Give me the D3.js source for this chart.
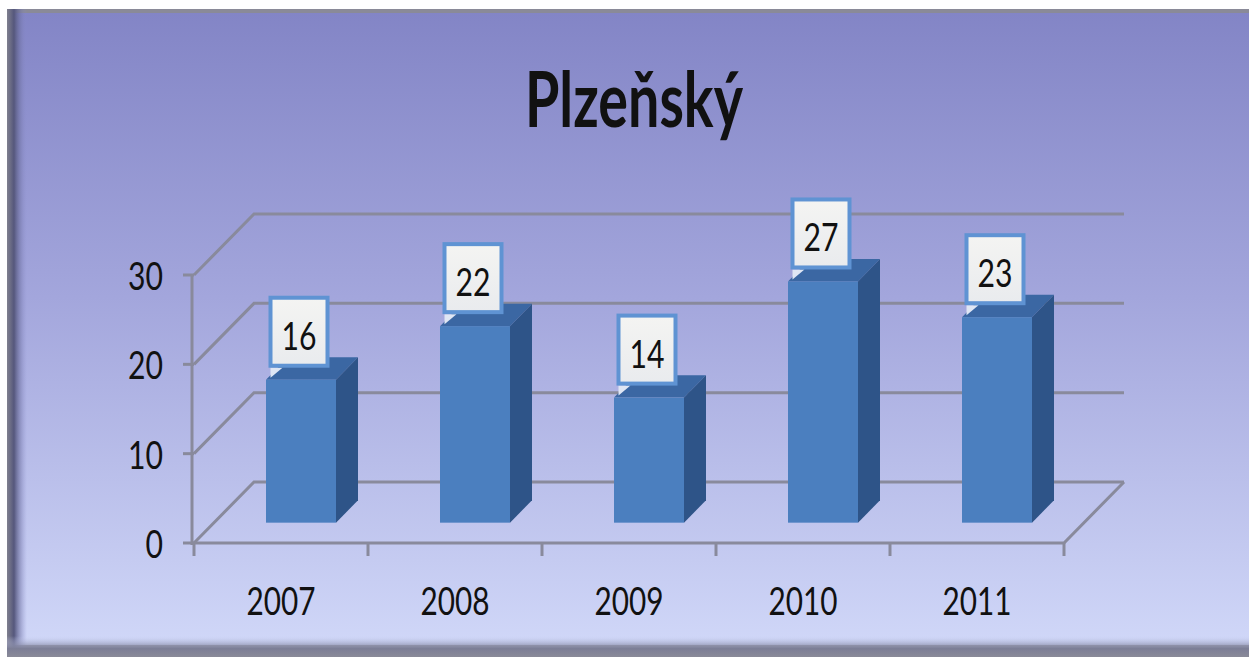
<!DOCTYPE html>
<html lang="cs">
  <head>
    <meta charset="utf-8">
    <script src="https://d3js.org/d3.v7.min.js"></script>
    <style>
      body { margin: 0; background: #fff; }
      svg { display: block; }
      text { font-family: Lato, "Open Sans", sans-serif; fill: #111; }
    </style>
  </head>
  <body>
    <svg width="1249" height="657"></svg>
    <script>
      // chart data
      var years = ["2007", "2008", "2009", "2010", "2011"];
      var values = [16, 22, 14, 27, 23];
      var yTicks = [0, 10, 20, 30];
      var title = "Plzeňský";

      var svg = d3.select("svg");
      var defs = svg.append("defs");

      //background gradient of the chart area
      var bg = defs.append("linearGradient").attr("id", "bg")
        .attr("x1", 0).attr("y1", 0).attr("x2", 0).attr("y2", 1);
      bg.append("stop").attr("offset", "0%").attr("stop-color", "#8385c6");
      bg.append("stop").attr("offset", "45%").attr("stop-color", "#a3a6dc");
      bg.append("stop").attr("offset", "100%").attr("stop-color", "#d0d7f8");

      var leftEdge = defs.append("linearGradient").attr("id", "leftEdge");
      leftEdge.append("stop").attr("offset", "0%").attr("stop-color", "#80808e");
      leftEdge.append("stop").attr("offset", "35%").attr("stop-color", "#55577c");
      leftEdge.append("stop").attr("offset", "100%").attr("stop-color", "#8c8fcc").attr("stop-opacity", 0);

      var bottomEdge = defs.append("linearGradient").attr("id", "bottomEdge")
        .attr("x1", 0).attr("y1", 0).attr("x2", 0).attr("y2", 1);
      bottomEdge.append("stop").attr("offset", "0%").attr("stop-color", "#c8cff2").attr("stop-opacity", 0);
      bottomEdge.append("stop").attr("offset", "60%").attr("stop-color", "#7c7e96");
      bottomEdge.append("stop").attr("offset", "100%").attr("stop-color", "#8a8a98");

      var boxFill = defs.append("linearGradient").attr("id", "boxFill")
        .attr("x1", 0).attr("y1", 0).attr("x2", 0).attr("y2", 1);
      boxFill.append("stop").attr("offset", "0%").attr("stop-color", "#f4f4f2");
      boxFill.append("stop").attr("offset", "100%").attr("stop-color", "#e9ebee");

      //frame
      svg.append("rect").attr("x", 7).attr("y", 9).attr("width", 1242).attr("height", 648)
        .attr("fill", "#8a8a98");
      svg.append("rect").attr("x", 9).attr("y", 13).attr("width", 1240).attr("height", 632)
        .attr("fill", "url(#bg)");
      svg.append("rect").attr("x", 7).attr("y", 9).attr("width", 20).attr("height", 648)
        .attr("fill", "url(#leftEdge)");
      svg.append("rect").attr("x", 7).attr("y", 636).attr("width", 1242).attr("height", 21)
        .attr("fill", "url(#bottomEdge)");

      //title
      svg.append("text")
        .attr("x", 634).attr("y", 127)
        .attr("text-anchor", "middle")
        .attr("font-size", 77)
        .attr("font-weight", "bold")
        .attr("textLength", 218)
        .attr("lengthAdjust", "spacingAndGlyphs")
        .text(title);

      //scales
      var x = d3.scaleBand().domain(years).range([194, 1064]);
      var y = d3.scaleLinear().domain([0, 30]).range([543, 275]);
      var depthX = 60, depthY = -61;

      var grid = svg.append("g")
        .attr("stroke", "#898a9c")
        .attr("stroke-width", 3)
        .attr("fill", "none");

      //back wall gridlines with the diagonal on the side wall
      grid.selectAll(".grid")
        .data(yTicks)
        .enter()
        .append("polyline")
        .attr("class", "grid")
        .attr("points", function (d) {
          return [
            [194, y(d)],
            [194 + depthX, y(d) + depthY],
            [1064 + depthX, y(d) + depthY]
          ].join(" ");
        });

      //floor outline
      grid.append("polyline")
        .attr("points", [
          [194, y(0)], [1064, y(0)],
          [1064 + depthX, y(0) + depthY]
        ].join(" "));

      //vertical axis
      grid.append("line")
        .attr("x1", 192).attr("x2", 192)
        .attr("y1", y(30)).attr("y2", y(0) + 2);
      grid.selectAll(".ytick")
        .data(yTicks)
        .enter()
        .append("line")
        .attr("x1", 183).attr("x2", 194)
        .attr("y1", function (d) { return y(d); })
        .attr("y2", function (d) { return y(d); });

      //category ticks
      var catTicks = years.map(function (d) { return x(d); }).concat([x.range()[1]]);
      grid.selectAll(".xtick")
        .data(catTicks)
        .enter()
        .append("line")
        .attr("x1", function (d) { return d; })
        .attr("x2", function (d) { return d; })
        .attr("y1", y(0)).attr("y2", y(0) + 13);

      //y labels
      svg.selectAll(".ylab")
        .data(yTicks)
        .enter()
        .append("text")
        .attr("x", 163)
        .attr("y", function (d) { return y(d) + 15; })
        .attr("text-anchor", "end")
        .attr("font-size", 38)
        .attr("textLength", function (d) { return String(d).length * 17.5; })
        .attr("lengthAdjust", "spacingAndGlyphs")
        .text(function (d) { return d; });

      //x labels
      svg.selectAll(".xlab")
        .data(years)
        .enter()
        .append("text")
        .attr("x", function (d) { return x(d) + x.bandwidth() / 2; })
        .attr("y", 615)
        .attr("text-anchor", "middle")
        .attr("font-size", 39)
        .attr("textLength", 69)
        .attr("lengthAdjust", "spacingAndGlyphs")
        .text(function (d) { return d; });

      //3d bars
      var barW = 70;
      var f0 = 1 / 3, f1 = 0.7;
      var data = years.map(function (d, i) { return { year: d, value: values[i] }; });

      var bars = svg.selectAll(".bar")
        .data(data)
        .enter()
        .append("g")
        .attr("class", "bar");

      function fx(d) { return x(d.year) + (x.bandwidth() - barW) / 2 + depthX * f0; }
      function fyTop(d) { return y(d.value) + depthY * f0; }
      function fyBot() { return y(0) + depthY * f0; }
      var sx = depthX * (f1 - f0), sy = depthY * (f1 - f0);

      //top face
      bars.append("polygon")
        .attr("fill", "#3b67a3")
        .attr("points", function (d) {
          var x0 = fx(d), t = fyTop(d);
          return [[x0, t], [x0 + barW, t], [x0 + barW + sx, t + sy], [x0 + sx, t + sy]].join(" ");
        });
      //side face
      bars.append("polygon")
        .attr("fill", "#2e5488")
        .attr("points", function (d) {
          var x1 = fx(d) + barW, t = fyTop(d), b = fyBot();
          return [[x1, t], [x1 + sx, t + sy], [x1 + sx, b + sy], [x1, b]].join(" ");
        });
      //front face
      bars.append("rect")
        .attr("fill", "#4b7fbf")
        .attr("x", fx)
        .attr("y", fyTop)
        .attr("width", barW)
        .attr("height", function (d) { return fyBot() - fyTop(d); });

      //value labels
      var boxW = 61, boxH = 72;
      var labels = svg.selectAll(".lab")
        .data(data)
        .enter()
        .append("g")
        .attr("transform", function (d) {
          var cx = fx(d) + barW / 2 - 2;
          return "translate(" + (cx - boxW / 2) + "," + (fyTop(d) - 12 - boxH) + ")";
        });

      labels.append("path")
        .attr("d", "M2," + boxH + " l12,0 l-12,10 z")
        .attr("fill", "#dfe6f4");
      labels.append("rect")
        .attr("x", 2).attr("y", 2)
        .attr("width", boxW - 4).attr("height", boxH - 4)
        .attr("fill", "url(#boxFill)")
        .attr("stroke", "#5f93d3")
        .attr("stroke-width", 4);
      labels.append("text")
        .attr("x", boxW / 2)
        .attr("y", boxH / 2 + 18)
        .attr("text-anchor", "middle")
        .attr("font-size", 39)
        .attr("textLength", 35)
        .attr("lengthAdjust", "spacingAndGlyphs")
        .text(function (d) { return d.value; });
    </script>
  </body>
</html>
